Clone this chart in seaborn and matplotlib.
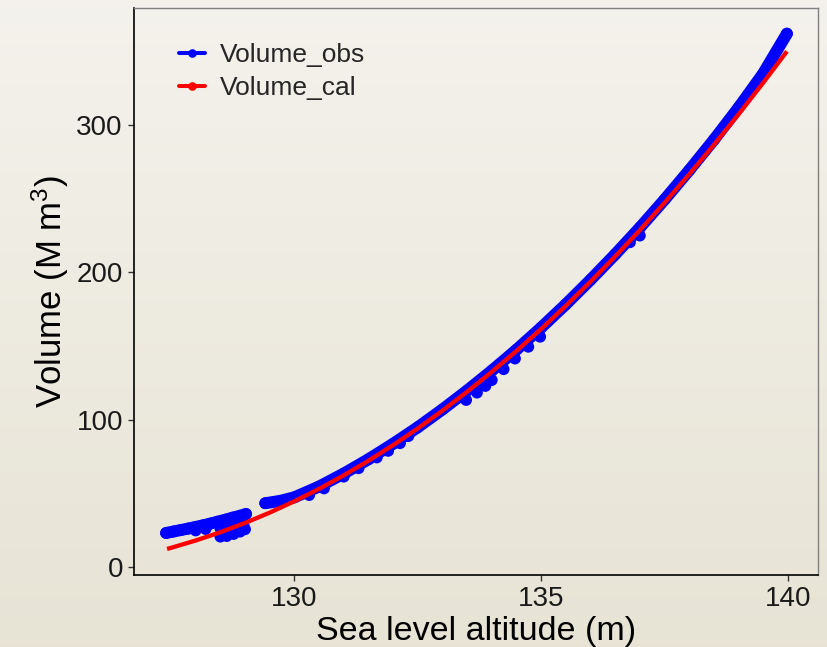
import numpy as np
import pandas as pd
import matplotlib
matplotlib.use("Agg")
import matplotlib.pyplot as plt
from matplotlib.lines import Line2D
import seaborn as sns

# ---------------- data ----------------
# observed volume, low-altitude branch (upper part)
obs_low_alt = [127.40, 127.55, 127.70, 127.85, 128.00, 128.15, 128.30, 128.45,
               128.60, 128.75, 128.90, 129.02]
obs_low_vol = [23.3, 24.3, 25.3, 26.3, 27.4, 28.5, 29.7, 31.0,
               32.3, 33.7, 35.0, 36.2]

# observed volume, main branch
obs_main_alt = [129.41, 129.70, 130.00, 130.50, 131.00, 131.50, 132.00, 132.50,
                133.00, 133.50, 134.00, 134.50, 135.00, 135.50, 136.00, 136.50,
                137.00, 137.50, 138.00, 138.50, 139.00, 139.50, 139.98]
obs_main_vol = [43.5, 45.0, 47.5, 54.8, 63.6, 73.3, 83.8, 95.0,
                107.1, 119.9, 133.4, 147.6, 162.6, 178.4, 195.0, 212.3,
                230.4, 249.4, 269.3, 290.0, 311.8, 335.0, 362.0]

# scattered lower observations
obs_out_alt = [128.00, 128.20, 128.50, 128.63, 128.77, 128.90, 129.00, 128.97,
               128.50, 128.65, 128.80, 128.95,
               130.30, 130.60, 131.00, 131.30,
               131.67, 131.90, 132.14, 132.31, 133.48, 133.70, 133.87, 134.00,
               134.24, 134.47, 134.74, 134.98, 136.80, 137.00]
obs_out_vol = [25.0, 26.0, 20.8, 21.2, 22.6, 24.2, 25.8, 28.7,
               26.5, 27.0, 28.5, 31.0,
               49.0, 53.5, 61.5, 67.2,
               74.5, 79.0, 84.2, 89.0, 113.5, 118.5, 123.0, 127.0,
               134.4, 141.6, 149.6, 156.4, 220.5, 225.0]

# calculated volume curve
cal_alt = [127.42, 127.5, 128.0, 128.5, 129.0, 129.5, 130.0, 130.5, 131.0,
           131.5, 132.0, 132.5, 133.0, 133.5, 134.0, 134.5, 135.0, 135.5,
           136.0, 136.5, 137.0, 137.5, 138.0, 138.5, 139.0, 139.5, 139.98]
cal_vol = [12.5, 13.2, 18.2, 23.8, 30.1, 37.1, 44.8, 53.2, 62.4,
           72.3, 82.9, 94.2, 106.3, 119.1, 132.6, 146.8, 161.7, 177.4,
           193.8, 210.9, 228.7, 247.3, 266.6, 286.6, 307.3, 328.7, 350.0]

x_ticks = [130, 135, 140]
y_ticks = [0, 100, 200, 300]
series_names = ["Volume_obs", "Volume_cal"]
series_colors = ["#0000FF", "#FF0000"]

# ---------------- tables ----------------
df_line = pd.concat([
    pd.DataFrame({"alt": obs_low_alt, "vol": obs_low_vol, "seg": 1}),
    pd.DataFrame({"alt": obs_main_alt, "vol": obs_main_vol, "seg": 2}),
], ignore_index=True)
df_pts = pd.concat([
    df_line[["alt", "vol"]],
    pd.DataFrame({"alt": obs_out_alt, "vol": obs_out_vol}),
], ignore_index=True)
df_cal = pd.DataFrame({"alt": cal_alt, "vol": cal_vol})

# ---------------- style ----------------
sns.set_theme(style="white")
plt.rcParams["font.family"] = ["Liberation Sans", "DejaVu Sans"]
plt.rcParams["mathtext.fontset"] = "custom"
plt.rcParams["mathtext.rm"] = "Liberation Sans"
plt.rcParams["mathtext.it"] = "Liberation Sans:italic"
plt.rcParams["mathtext.bf"] = "Liberation Sans:bold"

W, H = 828, 647
fig = plt.figure(figsize=(W / 100, H / 100), dpi=100)

# gradient background
top_c = np.array([0.957, 0.949, 0.925])
bot_c = np.array([0.906, 0.890, 0.835])
g = np.linspace(0, 1, 256)[:, None, None]
img = top_c[None, None, :] * (1 - g) + bot_c[None, None, :] * g
bg = fig.add_axes([0, 0, 1, 1], zorder=-10)
bg.imshow(img, aspect="auto", extent=[0, 1, 0, 1], origin="upper")
bg.axis("off")
fig.patch.set_facecolor(top_c)

L, R, T, B = 134, 818, 8, 575
ax = fig.add_axes([L / W, 1 - B / H, (R - L) / W, (B - T) / H])
ax.set_facecolor("none")

# observed: thick line + markers
sns.lineplot(data=df_line, x="alt", y="vol", units="seg", estimator=None,
             sort=False, color=series_colors[0], lw=8.6,
             solid_capstyle="round", solid_joinstyle="round",
             ax=ax, legend=False)
for ln in ax.lines:
    ln.set_zorder(2)
sns.scatterplot(data=df_pts, x="alt", y="vol", color=series_colors[0],
                s=72, edgecolor="none", linewidth=0, ax=ax, legend=False)
for coll in ax.collections:
    coll.set_zorder(3)
# calculated
n_before = len(ax.lines)
sns.lineplot(data=df_cal, x="alt", y="vol", estimator=None, sort=False,
             color=series_colors[1], lw=3.1, solid_capstyle="butt",
             ax=ax, legend=False)
for ln in ax.lines[n_before:]:
    ln.set_zorder(10)

ax.set_xlim(126.75, 140.61)
ax.set_ylim(-5.2, 379.4)
ax.set_xticks(x_ticks)
ax.set_yticks(y_ticks)
ax.set_xticklabels([str(v) for v in x_ticks])
ax.set_yticklabels([str(v) for v in y_ticks])
ax.tick_params(axis="both", which="major", bottom=True, left=True,
               direction="out", length=4, width=1.0, color="#333333",
               labelsize=20, labelcolor="#1a1a1a", pad=4)

for s in ["left", "bottom"]:
    ax.spines[s].set_color("black")
    ax.spines[s].set_linewidth(1.2)
for s in ["top", "right"]:
    ax.spines[s].set_color("#808080")
    ax.spines[s].set_linewidth(1.0)

ax.set_xlabel("Sea level altitude (m)", fontsize=24.5, color="black", labelpad=3)
ax.set_ylabel("Volume (M m$^3$)", fontsize=25, color="black", labelpad=4)

handles = [Line2D([0], [0], color=c, lw=2.9, marker="o", markersize=6.2,
                  markeredgewidth=0) for c in series_colors]
ax.legend(handles, series_names, loc="upper left",
          bbox_to_anchor=((179 - L) / (R - L), 1 - (43 - T) / (B - T)),
          frameon=False, fontsize=19, handlelength=1.0, handletextpad=0.55,
          labelspacing=0.35, borderaxespad=0, borderpad=0)

fig.savefig("out.png", dpi=100, facecolor=fig.get_facecolor())
